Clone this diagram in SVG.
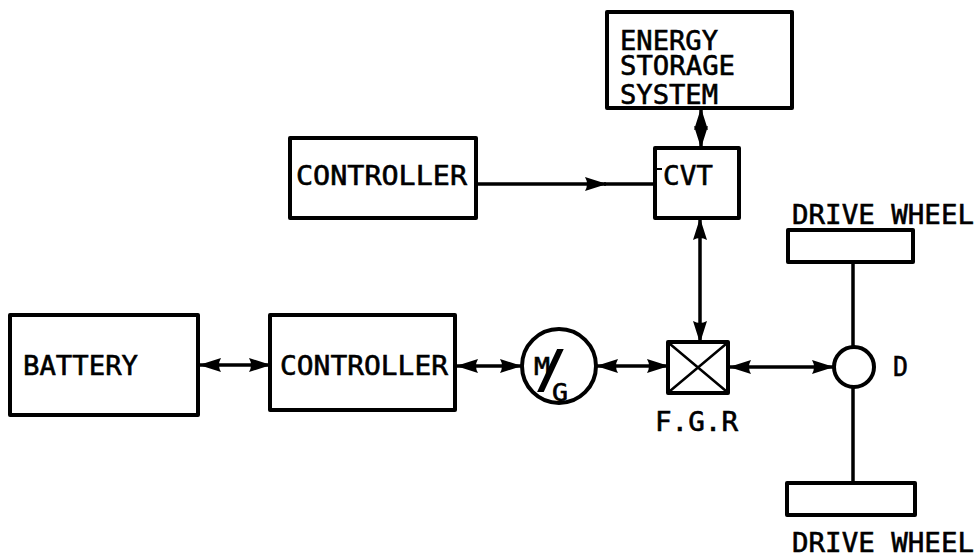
<svg xmlns="http://www.w3.org/2000/svg" width="978" height="558" viewBox="0 0 978 558">
<defs>
<style>
.box{fill:#fff;stroke:#000;stroke-width:4;stroke-linejoin:round}
.ln{fill:none;stroke:#000;stroke-width:3.5}
.t{font-family:"DejaVu Sans Mono","Liberation Mono",monospace;font-size:27px;fill:#000;stroke:#000;stroke-width:0.6}
.bi{marker-start:url(#ah);marker-end:url(#ah)}
.one{marker-end:url(#ah)}
</style>
<marker id="ah" viewBox="0 0 22 16" refX="21" refY="8" markerWidth="22" markerHeight="16" markerUnits="userSpaceOnUse" orient="auto-start-reverse">
<path d="M0,1 L22,8 L0,15 Q4,8 0,1 Z" fill="#000"/>
</marker>
</defs>
<rect width="978" height="558" fill="#fff"/>

<g id="connectors">
<line class="ln bi" x1="200" y1="365" x2="270" y2="365"/>
<line class="ln bi" x1="457" y1="366" x2="521" y2="366"/>
<line class="ln bi" x1="597" y1="366" x2="668" y2="366"/>
<line class="ln bi" x1="730" y1="367" x2="833" y2="367"/>
<line class="ln one" x1="476" y1="184" x2="606" y2="184"/>
<line class="ln" x1="604" y1="184" x2="655" y2="184"/>
<line class="ln bi" x1="701" y1="109" x2="701" y2="147"/>
<line class="ln bi" x1="700" y1="219" x2="700" y2="342"/>
<line class="ln" x1="853" y1="262" x2="853" y2="347"/>
<line class="ln" x1="853" y1="387" x2="853" y2="483"/>
</g>

<g id="energy-storage">
<rect class="box" x="607" y="12" width="185" height="96"/>
<text class="t"><tspan x="620" y="50" textLength="98" lengthAdjust="spacingAndGlyphs">ENERGY</tspan><tspan x="620" y="75" textLength="115" lengthAdjust="spacingAndGlyphs">STORAGE</tspan><tspan x="620" y="104" textLength="98" lengthAdjust="spacingAndGlyphs">SYSTEM</tspan></text>
</g>

<g id="cvt">
<rect class="box" x="655" y="148" width="84" height="70"/>
<line x1="657" y1="169" x2="662" y2="169" stroke="#000" stroke-width="2"/>
<text class="t" x="663" y="185" textLength="50" lengthAdjust="spacingAndGlyphs">CVT</text>
</g>

<g id="controller-top">
<rect class="box" x="290" y="138" width="186" height="80"/>
<text class="t" x="296" y="185" textLength="171" lengthAdjust="spacingAndGlyphs">CONTROLLER</text>
</g>

<g id="battery">
<rect class="box" x="10" y="315" width="188" height="100"/>
<text class="t" x="23" y="375" textLength="115" lengthAdjust="spacingAndGlyphs">BATTERY</text>
</g>

<g id="controller-bottom">
<rect class="box" x="270" y="315" width="185" height="95"/>
<text class="t" x="280" y="375" textLength="168" lengthAdjust="spacingAndGlyphs">CONTROLLER</text>
</g>

<g id="motor-generator">
<circle cx="559" cy="366" r="37" fill="#fff" stroke="#000" stroke-width="4"/>
<text class="t" font-family="DejaVu Sans Mono, monospace"><tspan x="534" y="375" font-size="24" textLength="16" lengthAdjust="spacingAndGlyphs">M</tspan><tspan x="536" y="386" font-size="50" style="font-size:50px;stroke-width:1.8">/</tspan><tspan x="552" y="401" font-size="24" textLength="16" lengthAdjust="spacingAndGlyphs">G</tspan></text>
</g>

<g id="fgr">
<rect class="box" x="668" y="342" width="60" height="51"/>
<path d="M670,344 L726,391 M726,344 L670,391" stroke="#000" stroke-width="2.5" fill="none"/>
<text class="t" x="655" y="431" textLength="83" lengthAdjust="spacingAndGlyphs">F.G.R</text>
</g>

<g id="differential">
<circle cx="854" cy="367" r="20" fill="#fff" stroke="#000" stroke-width="4"/>
<text class="t" x="893" y="376" textLength="15" lengthAdjust="spacingAndGlyphs">D</text>
</g>

<g id="wheel-top">
<rect class="box" x="788" y="230" width="125" height="32"/>
<text class="t" x="792" y="224" textLength="182" lengthAdjust="spacingAndGlyphs">DRIVE WHEEL</text>
</g>

<g id="wheel-bottom">
<rect class="box" x="787" y="483" width="128" height="32"/>
<text class="t" x="792" y="552" textLength="182" lengthAdjust="spacingAndGlyphs">DRIVE WHEEL</text>
</g>
</svg>
